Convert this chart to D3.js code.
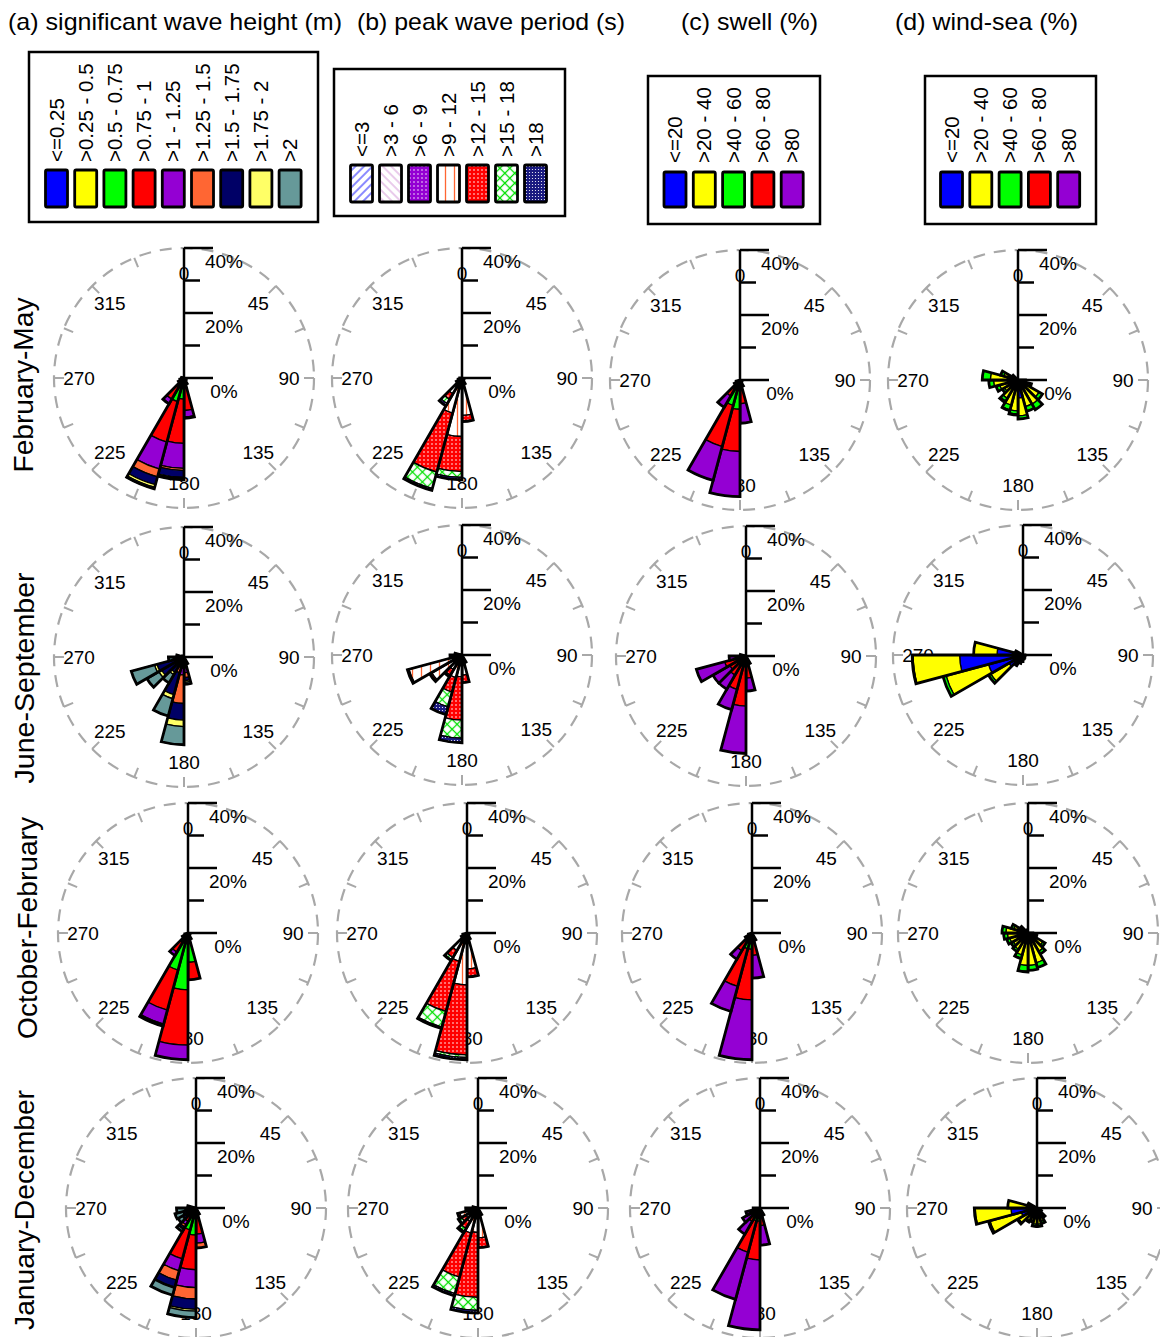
<!DOCTYPE html>
<html><head><meta charset="utf-8">
<script src="https://cdn.jsdelivr.net/npm/d3@7"></script>
<style>body{margin:0;background:#fff;} svg{display:block;font-family:"Liberation Sans",Arial,sans-serif;}</style>
</head><body><svg id="chart" width="1160" height="1337"></svg>
<script>
// ---------- categories / labels ----------
const titles = ["(a) significant wave height (m)", "(b) peak wave period (s)", "(c) swell (%)", "(d) wind-sea (%)"];
const seasons = ["February-May", "June-September", "October-February", "January-December"];
const hsClasses = ["<=0.25", ">0.25 - 0.5", ">0.5 - 0.75", ">0.75 - 1", ">1 - 1.25", ">1.25 - 1.5", ">1.5 - 1.75", ">1.75 - 2", ">2"];
const tpClasses = ["<=3", ">3 - 6", ">6 - 9", ">9 - 12", ">12 - 15", ">15 - 18", ">18"];
const pctClasses = ["<=20", ">20 - 40", ">40 - 60", ">60 - 80", ">80"];
const dirLabels = [0, 45, 90, 135, 180, 225, 270, 315];
const pctTicks = [0, 10, 20, 30, 40];
const pctTickLabels = [0, 20, 40];

// ---------- series: [sector start (deg), per-class frequency (%)] ----------
const hsFebMay = [[120,[0.2,0.3,0.2,0,0,0,0,0,0]],[135,[0.2,0.3,0.4,0,0,0,0,0,0]],[150,[0.2,0.4,0.8,0.6,0,0,0,0,0]],
  [165,[0.2,0.5,1.8,7.5,2.0,0.4,0,0,0]],[180,[0.3,0.7,5.5,13.6,7.7,0.7,2.1,0.4,0.3]],[195,[0.3,0.7,6.5,12.9,8.6,2.5,2.5,0.8,0.5]],
  [210,[0.2,0.4,1.4,5.5,1.5,0,0.2,0,0]],[225,[0.2,0.4,0.8,0.6,0,0,0,0,0]],[240,[0.2,0.3,0.5,0.3,0,0,0,0,0]],
  [255,[0.2,0.3,0.3,0,0,0,0,0,0]],[270,[0.2,0.3,0.2,0,0,0,0,0,0]]];
const tpFebMay = [[135,[0.2,0.3,0.3,0,0,0,0]],[150,[0.2,0.5,0.3,1.0,0,0,0]],[165,[0.2,0.8,0.3,10.2,1.9,0,0]],
  [180,[0.2,0.8,0.5,16.5,10.8,1.8,0.7]],[195,[0.2,1.0,0.5,9.5,18.8,5.2,0.6]],[210,[0.2,0.6,0.3,4.5,2.0,1.5,0.8]],
  [225,[0.2,0.5,0.3,1.0,0,0,0]],[240,[0.2,0.4,0.3,0.3,0,0,0]],[255,[0.2,0.3,0.2,0,0,0,0]]];
const swFebMay = [[135,[0.2,0.3,0.3,0,0]],[150,[0.2,0.5,0.6,0.5,0.3]],[165,[0.2,0.6,1.5,5.0,6.0]],[180,[0.5,1.5,7.0,13.0,13.9]],
  [195,[0.4,1.2,6.5,13.1,10.8]],[210,[0.2,0.5,1.0,4.0,4.0]],[225,[0.2,0.4,0.5,0.6,0.3]],[240,[0.2,0.3,0.3,0.2,0.2]]];
const wsFebMay = [[90,[0.5,1.5,0.3,0,0]],[105,[0.8,3,0.5,0,0]],[120,[1,6.5,1.2,0,0]],[135,[1,7.6,2,0,0]],[150,[1.5,7,1.5,0,0]],
  [165,[5.5,5.5,1,0,0]],[180,[3,6.5,1,0.3,0]],[195,[1.5,6.5,1.5,0.3,0]],[210,[1,5.5,1,0.5,0]],[225,[0.8,4,0.8,0,0]],
  [240,[0.8,5,1.2,0,0]],[255,[1,6.5,1.5,0,0]],[270,[1,7.5,2.5,0,0]],[285,[0.5,4,1,0,0]],[300,[0.3,1.5,0.3,0,0]]];

const hsJunSep = [[150,[0.2,0.3,0.4,0.5,0.3,0.3,0.3,0,0]],[165,[0.3,0.5,1,1.5,1.5,1.5,1,0.5,0.6]],
  [180,[0.2,0.4,0.8,2.1,2.0,8.8,5.1,2.0,5.6]],[195,[0.2,0.3,0.5,1,1,2,7,1.3,5.5]],[210,[0.2,0.2,0.4,0.7,0.5,1,2.5,0.8,2.9]],
  [225,[0.2,0.2,0.4,0.7,0.5,1,5,1,4.2]],[240,[0.2,0.2,0.4,0.7,0.5,1,5.6,0.8,7.4]],[255,[0.2,0.2,0.3,0.3,0.3,0.5,1,0.5,1.5]],
  [270,[0.2,0.3,0.3,0.3,0.2,0.2,0.3,0,0.5]],[285,[0.2,0.2,0.2,0,0,0,0,0,0]]];
const tpJunSep = [[150,[0.2,0.5,0.5,1,0.3,0,0]],[165,[0.2,0.5,0.5,5,2.3,0,0]],[180,[0.2,0.8,0.5,5.2,13.3,5.6,1.4]],
  [195,[0.2,0.8,0.5,5.7,4.6,4.7,2.5]],[210,[0.2,0.5,0.5,4,2,0.5,0]],[225,[0.2,1,1,8.6,0.5,0.2,0]],
  [240,[0.2,1.3,1,14.4,0.3,0.2,0]],[255,[0.2,0.5,0.5,2.5,0,0,0]],[270,[0.2,0.5,0.5,1,0,0,0]]];
const swJunSep = [[150,[0.2,0.4,0.5,1,0.5]],[165,[0.3,0.5,1,5,4]],[180,[0.3,1.0,1.5,12.6,14.6]],[195,[0.3,0.8,1.5,8,6.5]],
  [210,[0.3,0.5,1,5,5]],[225,[0.3,0.5,1,4,6]],[240,[0.3,0.5,1,5,9]],[255,[0.3,0.4,0.5,1.5,2.5]],[270,[0.2,0.3,0.3,0.5,0.5]]];
const wsJunSep = [[90,[0.3,0.3,0,0,0]],[120,[0.3,0.3,0,0,0]],[135,[0.3,0.5,0,0,0]],[150,[0.5,0.5,0,0,0]],[165,[0.5,0.8,0,0,0]],
  [180,[0.8,1,0.2,0,0]],[195,[1,1.5,0.2,0,0]],[210,[1.5,2,0.3,0,0]],[225,[5,6.5,0.8,0,0]],[240,[11,13.5,1.0,0,0]],
  [255,[19.5,14.3,0.3,0,0]],[270,[8,7.2,0,0,0]],[285,[1,1.5,0,0,0]]];

const hsOctFeb = [[135,[0.2,0.3,0.3,0,0,0,0,0,0]],[150,[0.2,0.5,0.8,0.5,0,0,0,0,0]],[165,[0.3,1.2,7.5,5.4,0,0,0,0,0]],
  [180,[0.3,1.7,15.5,17,4.5,0,0,0,0]],[195,[0.3,1.7,9.8,12.8,4.4,0.4,0.3,0,0]],[210,[0.3,1,2,3.5,1.2,0,0,0,0]],
  [225,[0.2,0.5,0.8,0.5,0,0,0,0,0]],[240,[0.2,0.3,0.5,0,0,0,0,0,0]]];
const tpOctFeb = [[135,[0.2,0.3,0.3,0,0,0,0]],[150,[0.2,0.5,0.3,1,0,0,0]],[165,[0.2,0.6,0.4,9.8,2.5,0,0]],
  [180,[0.2,0.8,0.5,14.5,21.5,0.8,0.7]],[195,[0.2,0.8,0.5,7.5,16,5,0.4]],[210,[0.2,0.5,0.5,5,2.5,0.8,0.3]],
  [225,[0.2,0.5,0.3,1,0,0,0]],[240,[0.2,0.3,0.3,0.5,0,0,0]]];
const swOctFeb = [[150,[0.2,0.4,0.5,0.8,0.5]],[165,[0.3,0.6,1,5,7]],[180,[0.3,0.7,4,15.6,18.4]],[195,[0.3,0.7,4,12,8]],
  [210,[0.3,0.5,1.5,4,3]],[225,[0.2,0.4,0.5,0.8,0.5]],[240,[0.2,0.3,0.3,0.3,0]]];
const wsOctFeb = [[90,[0.3,1,0.2,0,0]],[105,[0.5,2,0.3,0,0]],[120,[0.8,4.5,0.8,0,0]],[135,[1,5.5,1,0,0]],[150,[1.5,8,1.5,0,0]],
  [165,[2,8,1.5,0,0]],[180,[1.5,8.5,1.8,0.2,0]],[195,[1,6,1,0.2,0]],[210,[0.8,5,0.8,0,0]],[225,[0.8,4.5,0.8,0,0]],
  [240,[0.8,5,1,0,0]],[255,[0.8,5.5,1.2,0,0]],[270,[0.8,6,1.2,0,0]],[285,[0.5,4,0.8,0,0]],[300,[0.3,2,0.5,0,0]],[315,[0.2,0.8,0,0,0]]];

const hsJanDec = [[150,[0.2,0.3,0.5,0.6,0.3,0.2,0,0,0]],[165,[0.3,0.7,2,5,2.8,1.5,0,0,0]],
  [180,[0.3,1.2,6.8,10.7,5.5,3.5,3.2,0.5,2.0]],[195,[0.3,1.2,5.5,9.2,3.8,3,2.2,0.4,2.2]],[210,[0.3,0.5,1.5,2.5,1.2,0.8,0.6,0.2,0.8]],
  [225,[0.2,0.4,0.8,1.2,0.6,0.6,0.8,0.3,1.5]],[240,[0.2,0.3,0.6,0.8,0.5,0.5,1,0.3,2.5]],[255,[0.2,0.3,0.5,0.5,0.4,0.4,0.8,0.3,2.6]],
  [270,[0.2,0.2,0.3,0.3,0.2,0.2,0.3,0.1,0.8]]];
const tpJanDec = [[150,[0.2,0.4,0.4,1,0.3,0,0]],[165,[0.2,0.6,0.4,8,3,0,0]],[180,[0.2,0.8,0.5,6,20,4,0.8]],
  [195,[0.2,0.8,0.5,6.5,14,5.3,0.7]],[210,[0.2,0.6,0.5,3.5,2.5,1,0.5]],[225,[0.2,0.6,0.5,3,1.5,0.8,0.4]],
  [240,[0.2,0.6,0.5,4.5,0.5,0.2,0]],[255,[0.2,0.4,0.4,2.5,0.3,0,0]],[270,[0.2,0.3,0.3,0.8,0,0,0]]];
const swJanDec = [[150,[0.2,0.4,0.5,0.8,0.5]],[165,[0.3,0.6,1,3.5,6]],[180,[0.3,0.8,3,11.9,21.5]],[195,[0.3,0.8,3,10,15]],
  [210,[0.3,0.5,1,3,4.5]],[225,[0.2,0.4,0.6,1.5,3.5]],[240,[0.2,0.3,0.5,1,2.5]],[255,[0.2,0.3,0.3,0.5,0.8]]];
const wsJanDec = [[120,[0.3,1,0.3,0,0]],[135,[0.5,2.5,0.5,0,0]],[150,[0.8,3.5,0.7,0,0]],[165,[1,4,0.7,0,0]],[180,[1,4,0.7,0,0]],
  [195,[1,3,0.5,0,0]],[210,[1.5,3,0.5,0,0]],[225,[2,4.5,0.5,0,0]],[240,[5,10,0.5,0,0]],[255,[8,11,0.3,0,0]],
  [270,[3,6,0,0,0]],[285,[1,2,0,0,0]]];

// ---------- styles ----------
const hsColors = ["#0000ff","#ffff00","#00ff00","#ff0000","#9400d3","#ff6633","#000066","#ffff66","#669999"];
const pctColors = ["#0000ff","#ffff00","#00ff00","#ff0000","#9400d3"];
const tpFills = ["url(#tp0)","url(#tp1)","url(#tp2)","url(#tp3)","url(#tp4)","url(#tp5)","url(#tp6)"];

const svg = d3.select("#chart");
const defs = svg.append("defs");

function linePattern(id, bg, color, size, rot, width) {
  const p = defs.append("pattern").attr("id", id).attr("patternUnits", "userSpaceOnUse")
    .attr("width", size).attr("height", size);
  if (rot) p.attr("patternTransform", `rotate(${rot})`);
  p.append("rect").attr("width", size).attr("height", size).attr("fill", bg);
  p.append("line").attr("x1", size / 2).attr("y1", 0).attr("x2", size / 2).attr("y2", size)
    .attr("stroke", color).attr("stroke-width", width);
  return p;
}
function dotPattern(id, bg, size, r) {
  const p = defs.append("pattern").attr("id", id).attr("patternUnits", "userSpaceOnUse")
    .attr("width", size).attr("height", size);
  p.append("rect").attr("width", size).attr("height", size).attr("fill", bg);
  p.append("circle").attr("cx", size / 2).attr("cy", size / 2).attr("r", r).attr("fill", "#fff");
  return p;
}
linePattern("tp0", "#fff", "#2b2bff", 6, 45, 1.1);
linePattern("tp1", "#fff", "#d8a0dc", 6, -45, 1.1);
dotPattern("tp2", "#9400d3", 4, 0.75);
linePattern("tp3", "#fff", "#ff6633", 9, 0, 1.3);
dotPattern("tp4", "#ff0000", 4, 0.8);
(() => {
  const p = defs.append("pattern").attr("id", "tp5").attr("patternUnits", "userSpaceOnUse")
    .attr("width", 7).attr("height", 7).attr("patternTransform", "rotate(45)");
  p.append("rect").attr("width", 7).attr("height", 7).attr("fill", "#fff");
  p.append("line").attr("x1", 3.5).attr("y1", 0).attr("x2", 3.5).attr("y2", 7).attr("stroke", "#00e000").attr("stroke-width", 1.3);
  p.append("line").attr("x1", 0).attr("y1", 3.5).attr("x2", 7).attr("y2", 3.5).attr("stroke", "#00e000").attr("stroke-width", 1.3);
})();
dotPattern("tp6", "#1a1a80", 3, 0.6);

// ---------- titles ----------
const titleX = [8, 357, 681, 895], titleW = [334, 268, 137, 183];
titles.forEach((t, i) => {
  svg.append("text").attr("x", titleX[i]).attr("y", 30).attr("font-size", 24)
    .attr("textLength", titleW[i]).attr("lengthAdjust", "spacingAndGlyphs").text(t);
});

// ---------- legends ----------
function legend(box, sw, labelBottom, classes, fills) {
  svg.append("rect").attr("x", box[0]).attr("y", box[1]).attr("width", box[2] - box[0]).attr("height", box[3] - box[1])
    .attr("fill", "#fff").attr("stroke", "#000").attr("stroke-width", 2.5);
  classes.forEach((c, i) => {
    const cx = sw.x0 + i * sw.dx;
    svg.append("rect").attr("x", cx - 11).attr("y", sw.y0).attr("width", 22).attr("height", sw.h)
      .attr("rx", 1.5).attr("fill", fills[i]).attr("stroke", "#000").attr("stroke-width", 2.8);
    svg.append("text").attr("transform", `translate(${cx + 7},${labelBottom}) rotate(-90)`)
      .attr("font-size", 20.5).text(c);
  });
}
legend([29, 52, 318, 222], {x0: 56.5, dx: 29.2, y0: 170, h: 37}, 162, hsClasses, hsColors);
legend([334, 69, 565, 216], {x0: 361.5, dx: 29, y0: 165, h: 37}, 157, tpClasses, tpFills);
legend([648, 76, 820, 224], {x0: 675, dx: 29.3, y0: 172, h: 35}, 163, pctClasses, pctColors);
legend([925, 76, 1096, 224], {x0: 951.5, dx: 29.3, y0: 172, h: 35}, 163, pctClasses, pctColors);

// ---------- row labels ----------
const seasonX = [33, 34, 37, 34], seasonY = [385, 678, 928, 1210], seasonW = [175, 211, 222, 240];
seasons.forEach((s, i) => {
  svg.append("text").attr("transform", `translate(${seasonX[i]},${seasonY[i]}) rotate(-90)`)
    .attr("text-anchor", "middle").attr("font-size", 27)
    .attr("textLength", seasonW[i]).attr("lengthAdjust", "spacingAndGlyphs").text(s);
});

// ---------- roses ----------
const R = 130;
const rScale = d3.scaleLinear().domain([0, 40]).range([0, R]);
const arcGen = d3.arc();
const rad = d => d * Math.PI / 180;
const SECTOR = 15;
const centerX = [[184, 462, 740, 1018], [184, 462, 746, 1023], [188, 467, 752, 1028], [196, 478, 760, 1037]];
const centerY = [[378, 378, 380, 380], [657, 655, 656, 655], [933, 933, 933, 933], [1208, 1208, 1208, 1208]];
const panels = [[hsFebMay, tpFebMay, swFebMay, wsFebMay], [hsJunSep, tpJunSep, swJunSep, wsJunSep],
                [hsOctFeb, tpOctFeb, swOctFeb, wsOctFeb], [hsJanDec, tpJanDec, swJanDec, wsJanDec]];
const panelFills = [hsColors, tpFills, pctColors, pctColors];

function drawRose(g, data, fills) {
  g.append("circle").attr("r", R).attr("fill", "none").attr("stroke", "#a8a8a8")
    .attr("stroke-width", 2.2).attr("stroke-dasharray", "12,9");
  d3.range(0, 360, 22.5).forEach(a => {
    const t = rad(a);
    g.append("line").attr("x1", Math.sin(t) * (R - 10)).attr("y1", -Math.cos(t) * (R - 10))
      .attr("x2", Math.sin(t) * R).attr("y2", -Math.cos(t) * R)
      .attr("stroke", "#a8a8a8").attr("stroke-width", 2);
  });
  dirLabels.forEach(a => {
    const t = rad(a);
    g.append("text").attr("x", Math.sin(t) * 105).attr("y", -Math.cos(t) * 105)
      .attr("text-anchor", "middle").attr("dominant-baseline", "central").attr("font-size", 19).text(a);
  });
  g.append("line").attr("x1", 0).attr("y1", 0).attr("x2", 0).attr("y2", -rScale(40))
    .attr("stroke", "#000").attr("stroke-width", 2.5);
  pctTicks.forEach(p => {
    g.append("line").attr("x1", 0).attr("y1", -rScale(p)).attr("x2", p % 20 === 0 ? 29 : 16).attr("y2", -rScale(p))
      .attr("stroke", "#000").attr("stroke-width", 2.5);
  });
  pctTickLabels.forEach(p => {
    g.append("text").attr("x", 40).attr("y", -rScale(p) + 13).attr("text-anchor", "middle")
      .attr("dominant-baseline", "central").attr("font-size", 19).text(p + "%");
  });
  data.forEach(([dir, vals]) => {
    const a0 = rad(dir), a1 = rad(dir + SECTOR);
    let cum = 0;
    vals.forEach((v, i) => {
      if (v <= 0) return;
      g.append("path").attr("d", arcGen({innerRadius: rScale(cum), outerRadius: rScale(cum + v), startAngle: a0, endAngle: a1}))
        .attr("fill", fills[i]).attr("stroke", "#000").attr("stroke-width", 1.3);
      cum += v;
    });
    g.append("path").attr("d", arcGen({innerRadius: 0, outerRadius: rScale(cum), startAngle: a0, endAngle: a1}))
      .attr("fill", "none").attr("stroke", "#000").attr("stroke-width", 2.8).attr("stroke-linejoin", "miter");
  });
}

panels.forEach((row, ri) => row.forEach((data, ci) => {
  const g = svg.append("g").attr("transform", `translate(${centerX[ri][ci]},${centerY[ri][ci]})`);
  drawRose(g, data, panelFills[ci]);
}));
</script></body></html>
